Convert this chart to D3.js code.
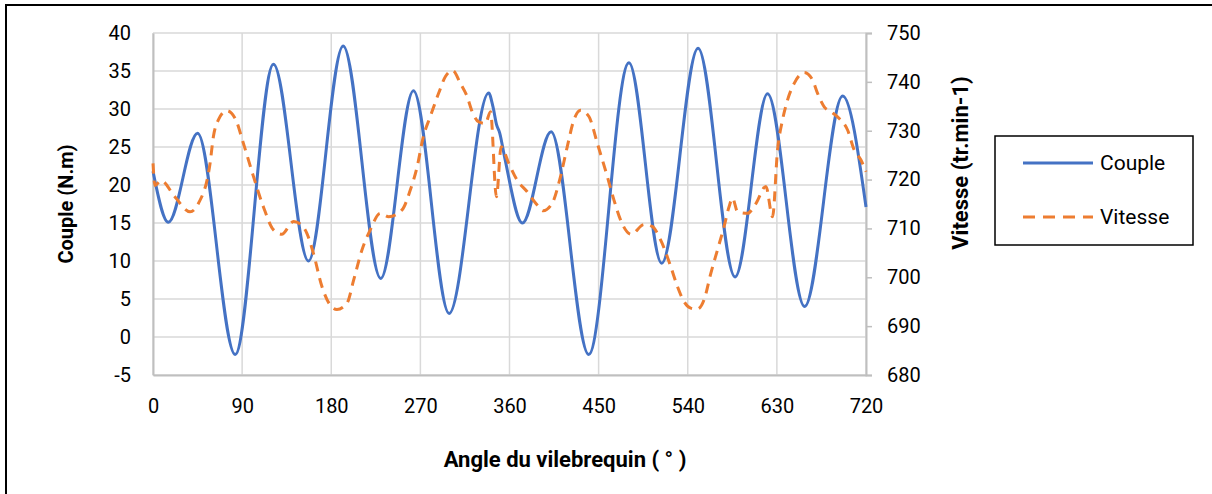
<!DOCTYPE html>
<html>
<head>
<meta charset="utf-8">
<script src="https://cdn.jsdelivr.net/npm/d3@7"></script>
<style>
  body { margin: 0; background: #fff; }
  text { font-family: Roboto, "Open Sans", sans-serif; fill: #000; }
</style>
</head>
<body>
<div id="chart"></div>
<script>
// --- données
const angleTicks = [0, 90, 180, 270, 360, 450, 540, 630, 720];
const coupleTicks = [-5, 0, 5, 10, 15, 20, 25, 30, 35, 40];
const vitesseTicks = [680, 690, 700, 710, 720, 730, 740, 750];

const coupleAngle = [0, 15.5, 45, 83, 121.7, 157, 192, 230, 263, 299, 339, 343.3, 347, 350, 355, 373, 402, 440, 480.6, 513.7, 550.4, 587.8, 620.6, 658, 696.4, 720];
const coupleVal   = [21.8, 15.1, 26.8, -2.3, 35.9, 10.0, 38.3, 7.7, 32.4, 3.1, 32.1, 30.3, 27.9, 26.9, 23.7, 15.0, 27.0, -2.3, 36.1, 9.7, 38.0, 7.9, 32.0, 4.0, 31.7, 17.1];

const vitesseAngle = [0, 2, 8, 22, 37.4, 45.8, 57.6, 61, 66, 74.5, 83, 91.3, 101.5, 111.5, 121.7, 130, 141.9, 148.7, 155.4, 162, 170.6, 179, 185.7, 195.9, 202.6, 211, 219.4, 229.5, 238, 251.5, 259.9, 266.7, 273, 280, 288.5, 295.3, 302.7, 310.4, 317.2, 322.3, 329, 335.7, 340.8, 346.8, 351.6, 359.3, 367.7, 377.9, 388, 394, 403, 411.5, 418.3, 425, 431.8, 440.2, 448.7, 458.8, 465.5, 472.2, 483, 495.8, 504, 512.7, 522.8, 529.6, 536.3, 543, 549.8, 556.5, 563.3, 570, 576.7, 581.8, 585.2, 590.3, 600.4, 608.8, 618.9, 625.6, 630.7, 635.7, 640.8, 647.5, 657.6, 666, 671, 677.8, 684.6, 693, 701.5, 708, 714.9, 720];
const vitesseVal   = [723.3, 718.8, 719.8, 716.5, 713.4, 715.1, 723.3, 728.8, 732.2, 734.1, 732.5, 727.4, 720.6, 714.4, 709.7, 708.8, 711.4, 710.9, 709.0, 704.9, 698.1, 694.3, 693.4, 694.7, 699.4, 705.6, 709.7, 713.1, 712.4, 713.8, 717.9, 722.6, 728.8, 732.9, 737.7, 741.1, 742.3, 739.7, 737.0, 733.9, 731.8, 731.5, 733.9, 716.5, 726.7, 723.3, 719.9, 717.5, 714.8, 713.6, 715.1, 720.6, 726.7, 732.2, 734.2, 732.9, 727.4, 720.6, 715.8, 711.7, 708.8, 710.8, 710.4, 707.6, 702.2, 698.1, 695.0, 693.7, 693.5, 695.4, 700.8, 705.6, 710.4, 714.5, 716.2, 713.4, 713.1, 715.1, 718.6, 712.4, 726.1, 732.2, 736.3, 739.7, 741.9, 740.4, 737.7, 734.9, 733.9, 732.5, 730.1, 726.1, 724.0, 721.6];

const coupleData = coupleAngle.map((a, i) => ({ a: a, v: coupleVal[i] }));
const vitesseData = vitesseAngle.map((a, i) => ({ a: a, v: vitesseVal[i] }));

// --- dimensions
const W = 1212, H = 494;
const plotL = 153, plotR = 866, plotT = 33, plotB = 375;

const svg = d3.select("#chart")
  .append("svg")
  .attr("width", W)
  .attr("height", H);

// cadre
svg.append("path")
  .attr("d", `M6,${H + 5}V5H${W + 5}`)
  .attr("fill", "none")
  .attr("stroke", "#000")
  .attr("stroke-width", 2);

const x = d3.scaleLinear().domain([0, 720]).range([plotL, plotR]);
const yL = d3.scaleLinear().domain([-5, 40]).range([plotB, plotT]);
const yR = d3.scaleLinear().domain([680, 750]).range([plotB, plotT]);

// grille
svg.append("g")
  .selectAll("line")
  .data(coupleTicks)
  .enter()
  .append("line")
  .attr("x1", plotL).attr("x2", plotR)
  .attr("y1", d => yL(d)).attr("y2", d => yL(d))
  .attr("stroke", "#d9d9d9")
  .attr("stroke-width", 1.5);
svg.append("g")
  .selectAll("line")
  .data(angleTicks)
  .enter()
  .append("line")
  .attr("x1", d => x(d)).attr("x2", d => x(d))
  .attr("y1", plotT).attr("y2", plotB)
  .attr("stroke", "#d9d9d9")
  .attr("stroke-width", 1.5);

// axes
const fmt = d => String(d); // tiret simple comme Excel
const axisX = svg.append("g")
  .attr("transform", `translate(0,${plotB})`)
  .call(d3.axisBottom(x).tickValues(angleTicks).tickSize(0).tickPadding(24).tickFormat(fmt));
const axisL = svg.append("g")
  .attr("transform", `translate(${plotL},0)`)
  .call(d3.axisLeft(yL).tickValues(coupleTicks).tickSize(0).tickPadding(22).tickFormat(fmt));
const axisR = svg.append("g")
  .attr("transform", `translate(${plotR},0)`)
  .call(d3.axisRight(yR).tickValues(vitesseTicks).tickSize(6).tickPadding(15).tickFormat(fmt));

[axisX, axisL, axisR].forEach(g => {
  g.select(".domain").attr("stroke", "#bfbfbf").attr("stroke-width", 2);
  g.selectAll(".tick line").attr("stroke", "#bfbfbf").attr("stroke-width", 1.5);
  g.selectAll(".tick text")
    .attr("font-size", 20)
    .attr("font-family", "Roboto, sans-serif")
    .attr("fill", "#000");
});

// courbes
const lineL = d3.line().x(d => x(d.a)).y(d => yL(d.v)).curve(d3.curveMonotoneX);
const lineR = d3.line().x(d => x(d.a)).y(d => yR(d.v)).curve(d3.curveMonotoneX);

svg.append("path")
  .datum(coupleData)
  .attr("d", lineL)
  .attr("fill", "none")
  .attr("stroke", "#4472c4")
  .attr("stroke-width", 3);

svg.append("path")
  .datum(vitesseData)
  .attr("d", lineR)
  .attr("fill", "none")
  .attr("stroke", "#ed7d31")
  .attr("stroke-width", 3)
  .attr("stroke-dasharray", "10,7");

// titres des axes
svg.append("text")
  .attr("x", 565)
  .attr("y", 459)
  .attr("dy", "0.35em")
  .attr("text-anchor", "middle")
  .attr("font-size", 22)
  .attr("font-weight", "bold")
  .text("Angle du vilebrequin ( ° )");

svg.append("text")
  .attr("transform", `translate(66,${(plotT + plotB) / 2}) rotate(-90)`)
  .attr("dy", "0.35em")
  .attr("text-anchor", "middle")
  .attr("font-size", 20)
  .attr("font-weight", "bold")
  .text("Couple (N.m)");

svg.append("text")
  .attr("transform", `translate(960,163) rotate(-90)`)
  .attr("dy", "0.35em")
  .attr("text-anchor", "middle")
  .attr("font-size", 22)
  .attr("font-weight", "bold")
  .text("Vitesse (tr.min-1)");

// légende
const legend = svg.append("g");
legend.append("rect")
  .attr("x", 995).attr("y", 136)
  .attr("width", 198).attr("height", 109)
  .attr("fill", "#fff")
  .attr("stroke", "#000")
  .attr("stroke-width", 1.5);

const legendItems = [
  { name: "Couple", color: "#4472c4", dash: null, y: 163 },
  { name: "Vitesse", color: "#ed7d31", dash: "12,8", y: 217 }
];
legendItems.forEach(it => {
  legend.append("line")
    .attr("x1", 1023).attr("x2", 1093)
    .attr("y1", it.y).attr("y2", it.y)
    .attr("stroke", it.color)
    .attr("stroke-width", 3)
    .attr("stroke-dasharray", it.dash);
  legend.append("text")
    .attr("x", 1100)
    .attr("y", it.y)
    .attr("dy", "0.35em")
    .attr("font-size", 21)
    .text(it.name);
});
</script>
</body>
</html>
